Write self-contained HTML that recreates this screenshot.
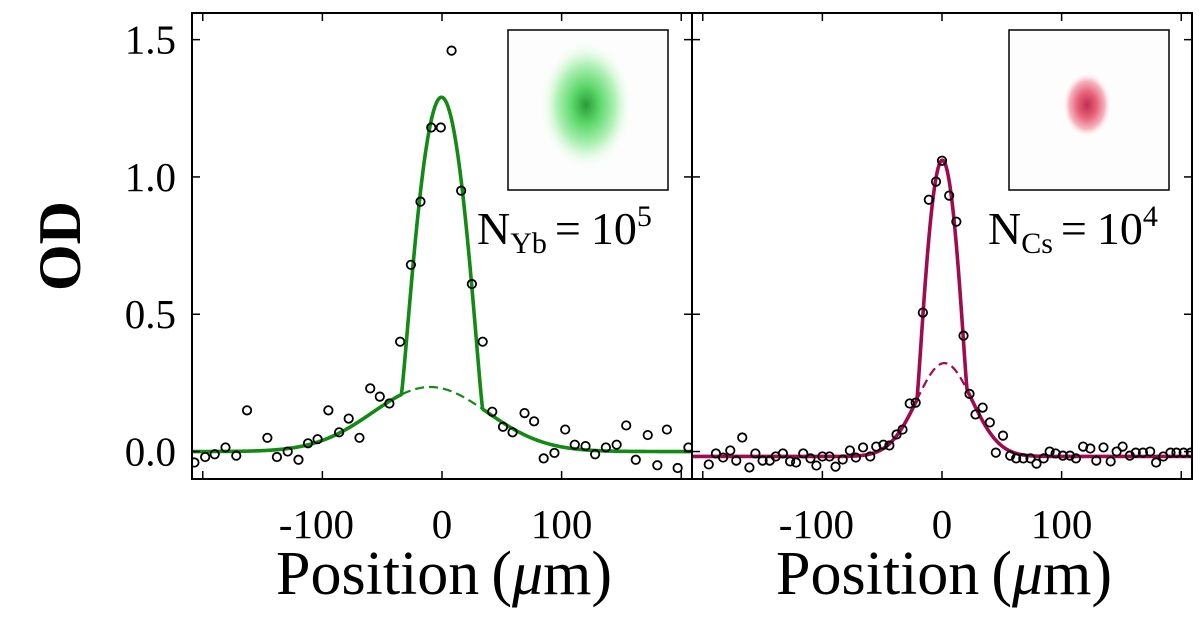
<!DOCTYPE html>
<html><head><meta charset="utf-8"><style>
body{margin:0;background:#fff;}
svg{display:block;}
</style></head><body>
<svg id="chart" width="1200" height="619" viewBox="0 0 1200 619" xmlns="http://www.w3.org/2000/svg" style="font-family:'Liberation Serif','DejaVu Serif',serif">
<defs>
<radialGradient id="gGreen" cx="50%" cy="50%" r="50%">
<stop offset="0" stop-color="#2a9a3a"/><stop offset="0.3" stop-color="#5cd86a"/><stop offset="0.65" stop-color="#b5f2ba"/><stop offset="1" stop-color="#f4fff4" stop-opacity="0"/>
</radialGradient>
<radialGradient id="gRed" cx="50%" cy="50%" r="50%">
<stop offset="0" stop-color="#c0304f"/><stop offset="0.4" stop-color="#e8607a"/><stop offset="0.75" stop-color="#f5b5c0"/><stop offset="1" stop-color="#fff4f6" stop-opacity="0"/>
</radialGradient>
</defs>
<g id="layer"></g>
</svg>
<script>
// ---- data ----
const ybX = [-207,-198,-190,-181,-172,-163,-146,-138,-129,-120,-112,-104,-95,-86,-78,-69,-60,-52,-44,-35,-26,-18,-9,-1,8,16,25,34,42,51,59,69,77,85,94,103,111,120,128,137,146,154,162,172,180,188,197,206];
const ybY = [-0.04,-0.02,-0.01,0.015,-0.015,0.15,0.05,-0.02,0,-0.03,0.03,0.045,0.15,0.07,0.12,0.05,0.23,0.2,0.175,0.4,0.68,0.91,1.18,1.18,1.46,0.95,0.61,0.4,0.145,0.09,0.07,0.14,0.11,-0.025,-0.005,0.08,0.025,0.02,-0.01,0.015,0.025,0.095,-0.03,0.06,-0.05,0.08,-0.06,0.015];
const csX = [-195,-189,-183,-177,-172,-167,-161,-156,-150,-144,-139,-133,-127,-122,-116,-110,-105,-100,-94,-89,-83,-77,-72,-66,-60,-55,-49,-44,-38,-33,-27,-22,-16,-11,-5,0,6,12,18,23,28,34,40,45,51,57,62,68,74,79,85,90,95,101,107,112,118,124,129,135,141,146,151,157,162,168,174,179,185,191,196,202,208];
const csY = [-0.047,-0.007,-0.022,0.004,-0.033,0.051,-0.058,-0.007,-0.033,-0.033,-0.018,-0.007,-0.036,-0.04,-0.007,-0.025,-0.051,-0.018,-0.018,-0.055,-0.029,0.004,-0.022,0.015,-0.018,0.018,0.025,0.022,0.062,0.08,0.175,0.178,0.506,0.917,0.983,1.059,0.932,0.837,0.422,0.21,0.135,0.16,0.106,-0.004,0.058,-0.015,-0.025,-0.025,-0.025,-0.044,-0.025,0,-0.007,-0.015,-0.015,-0.025,0.018,0.011,-0.033,0.015,-0.036,0,0.018,-0.015,-0.004,-0.004,0,-0.04,-0.018,-0.004,-0.004,-0.004,-0.004];
// fit parameters: [offset, thermalAmp, thermalCenter, thermalSigma, becAmp, becCenter, becRadius]
const ybFit = [0, 0.235, -10, 48, 1.06, 0, 34];
const csFit = [-0.018, 0.34, 2, 23, 0.74, 0, 21];
const xTicks = [-200,-100,0,100,200];
const xTickLabels = ["-100","0","100"];
const xTickLabelVals = [-100,0,100];
const yTicks = [0,0.5,1.0,1.5];
const yTickLabels = ["0.0","0.5","1.0","1.5"];

// ---- scales ----
const NS="http://www.w3.org/2000/svg";
const FONT="'Liberation Serif','DejaVu Serif',serif";
const layer=document.getElementById('layer');
const TOP=13, BOT=479, Y0=-0.1, Y1=1.597;
const panels=[{l:192,r:692,x0:-209,x1:209},{l:692,r:1192,x0:-209,x1:209}];
function sx(p,v){return p.l+(v-p.x0)/(p.x1-p.x0)*(p.r-p.l);}
function sy(v){return BOT-(v-Y0)/(Y1-Y0)*(BOT-TOP);}
function mk(tag,attrs,parent){const e=document.createElementNS(NS,tag);for(const k in attrs)e.setAttribute(k,attrs[k]);if(tag==='text')e.setAttribute('font-family',FONT);(parent||layer).appendChild(e);return e;}
function thermal(f,x){return f[0]+f[1]*Math.exp(-Math.pow(x-f[2],2)/(2*f[3]*f[3]));}
function total(f,x){const u=1-Math.pow((x-f[5])/f[6],2);return thermal(f,x)+(u>0?f[4]*Math.pow(u,1.2):0);}

function drawPanel(idx,xs,ys,fit,color,showY){
  const p=panels[idx];
  const g=mk('g',{});
  
  
  const clipId='clip'+idx;
  const cp=mk('clipPath',{id:clipId},g);mk('rect',{x:p.l,y:TOP,width:p.r-p.l,height:BOT-TOP},cp);
  const plot=mk('g',{'clip-path':'url(#'+clipId+')'},g);
  let d1='',d2='';
  for(let i=0;i<=1200;i++){const x=p.x0+(p.x1-p.x0)*i/1200;
    d1+=(i?'L':'M')+sx(p,x).toFixed(2)+','+sy(thermal(fit,x)).toFixed(2);
    d2+=(i?'L':'M')+sx(p,x).toFixed(2)+','+sy(total(fit,x)).toFixed(2);}
  const dash=mk('path',{d:d1,fill:'none',stroke:color,'stroke-width':2.2,'stroke-dasharray':'9,5'},plot);
  
  
  const sol=mk('path',{d:d2,fill:'none',stroke:color,'stroke-width':3.6,'stroke-linejoin':'round'},plot);
  
  
  for(let i=0;i<xs.length;i++){
    const c=mk('circle',{cx:sx(p,xs[i]),cy:sy(ys[i]),r:4.2,fill:'none',stroke:'#000','stroke-width':1.8},plot);
    
    
  }
  const fr=mk('rect',{x:p.l,y:TOP,width:p.r-p.l,height:BOT-TOP,fill:'none',stroke:'#000','stroke-width':2},g);
  
  
  xTicks.forEach(t=>{const x=sx(p,t); if(x<p.l+2||x>p.r-2)return;
    mk('line',{x1:x,y1:BOT,x2:x,y2:BOT-8,stroke:'#000','stroke-width':1.5},g);
    mk('line',{x1:x,y1:TOP,x2:x,y2:TOP+8,stroke:'#000','stroke-width':1.5},g);});
  yTicks.forEach(t=>{const y=sy(t);
    mk('line',{x1:p.l,y1:y,x2:p.l+8,y2:y,stroke:'#000','stroke-width':1.5},g);
    mk('line',{x1:p.r,y1:y,x2:p.r-8,y2:y,stroke:'#000','stroke-width':1.5},g);});
  xTickLabels.forEach((s,i)=>{const t=mk('text',{x:sx(p,xTickLabelVals[i])-(s[0]==='-'?6:0),y:538,'font-size':41,'text-anchor':'middle'},g);t.textContent=s;
    
    });
  if(showY){yTickLabels.forEach((s,i)=>{const t=mk('text',{x:176,y:sy(yTicks[i])+14,'font-size':41,'text-anchor':'end'},g);t.textContent=s;
    
    });}
  const xt=mk('text',{x:(p.l+p.r)/2+2,y:594,'font-size':62,'text-anchor':'middle'},g);
  xt.innerHTML='Position<tspan dx="12">(</tspan><tspan font-style="italic">μ</tspan>m)';
  
  
}
drawPanel(0,ybX,ybY,ybFit,'#138a13',true);
drawPanel(1,csX,csY,csFit,'#9e0b4e',false);

function inset(x,y,grad,rx,ry,name){
  const g=mk('g',{});
  
  
  mk('rect',{x:x,y:y,width:160,height:160,fill:'#fdfdfd',stroke:'#000','stroke-width':1.5},g);
  mk('ellipse',{cx:x+78,cy:y+75,rx:rx,ry:ry,fill:grad},g);
}
inset(508,30,'url(#gGreen)',46,64,'yb-absorption-image');
inset(1009,30,'url(#gRed)',24,32,'cs-absorption-image');

const a1=mk('text',{x:477,y:244,'font-size':46});
a1.innerHTML='N<tspan font-size="30" dy="9">Yb</tspan><tspan dy="-9" dx="8">=</tspan><tspan dx="10">10</tspan><tspan font-size="30" dy="-18">5</tspan>';


const a2=mk('text',{x:988,y:244,'font-size':46});
a2.innerHTML='N<tspan font-size="30" dy="9">Cs</tspan><tspan dy="-9" dx="8">=</tspan><tspan dx="10">10</tspan><tspan font-size="30" dy="-18">4</tspan>';


const yl=mk('text',{x:0,y:0,'font-size':60,'font-weight':'bold','text-anchor':'middle',transform:'translate(80,246) rotate(-90)'});
yl.textContent='OD';


</script>
</body></html>
